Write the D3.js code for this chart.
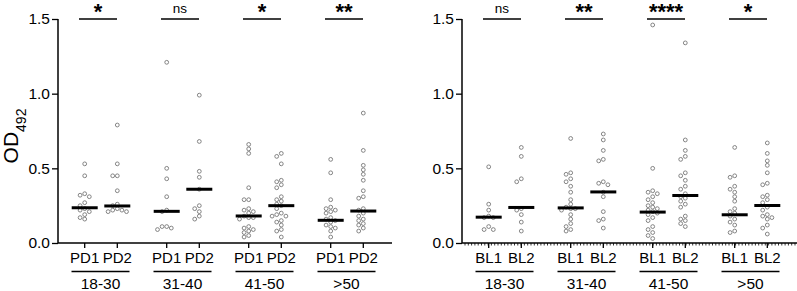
<!DOCTYPE html>
<html>
<head>
<meta charset="utf-8">
<script src="https://cdn.jsdelivr.net/npm/d3@7"></script>
<style>
  body { margin: 0; background: #fff; }
  text { font-family: "Liberation Sans", Arial, sans-serif; fill: #000; }
</style>
</head>
<body>
<div id="chart"></div>
<script>
// data
const ageGroups = ["18-30", "31-40", "41-50", ">50"];
const yTicks = [0, 0.5, 1.0, 1.5];

const leftSeries = ["PD1", "PD2"];
const leftPD1 = [
    [0.53, 0.45, 0.33, 0.32, 0.31, 0.27, 0.25, 0.23, 0.22, 0.21, 0.19, 0.17, 0.16],
    [1.21, 0.50, 0.43, 0.31, 0.22, 0.21, 0.11, 0.10, 0.11, 0.09],
    [0.66, 0.63, 0.60, 0.37, 0.29, 0.29, 0.23, 0.22, 0.21, 0.20, 0.18, 0.17, 0.17, 0.16, 0.11, 0.10, 0.09, 0.08, 0.07, 0.05, 0.04],
    [0.56, 0.47, 0.29, 0.24, 0.23, 0.22, 0.21, 0.20, 0.17, 0.16, 0.15, 0.14, 0.12, 0.11, 0.10, 0.08, 0.04]
];
const leftPD2 = [
    [0.79, 0.53, 0.45, 0.45, 0.35, 0.26, 0.25, 0.23, 0.22, 0.22, 0.21, 0.21],
    [0.99, 0.68, 0.48, 0.44, 0.36, 0.25, 0.23, 0.21, 0.18, 0.16],
    [0.60, 0.58, 0.53, 0.42, 0.41, 0.39, 0.37, 0.31, 0.29, 0.28, 0.26, 0.25, 0.23, 0.20, 0.19, 0.18, 0.18, 0.15, 0.14, 0.12, 0.09, 0.08, 0.04],
    [0.87, 0.62, 0.52, 0.49, 0.46, 0.42, 0.35, 0.31, 0.30, 0.23, 0.22, 0.20, 0.18, 0.16, 0.15, 0.13, 0.12, 0.10, 0.08]
];
const leftMedians = [[0.236, 0.248], [0.212, 0.36], [0.181, 0.25], [0.152, 0.214]];
const leftSig = ["*", "ns", "*", "**"];

const rightSeries = ["BL1", "BL2"];
const rightBL1 = [
    [0.51, 0.26, 0.22, 0.18, 0.17, 0.17, 0.11, 0.09, 0.09],
    [0.70, 0.47, 0.46, 0.43, 0.41, 0.38, 0.34, 0.29, 0.26, 0.24, 0.23, 0.23, 0.22, 0.19, 0.16, 0.13, 0.11, 0.09, 0.08],
    [1.46, 0.50, 0.35, 0.34, 0.33, 0.31, 0.29, 0.27, 0.25, 0.24, 0.23, 0.22, 0.21, 0.20, 0.19, 0.17, 0.15, 0.11, 0.09, 0.07, 0.05, 0.03],
    [0.64, 0.45, 0.44, 0.38, 0.36, 0.34, 0.31, 0.28, 0.23, 0.21, 0.20, 0.18, 0.16, 0.14, 0.12, 0.08, 0.07]
];
const rightBL2 = [
    [0.64, 0.58, 0.43, 0.41, 0.23, 0.22, 0.19, 0.14, 0.08],
    [0.73, 0.69, 0.62, 0.56, 0.55, 0.41, 0.40, 0.39, 0.34, 0.31, 0.21, 0.16, 0.15, 0.10],
    [1.34, 0.69, 0.62, 0.58, 0.56, 0.47, 0.45, 0.42, 0.38, 0.36, 0.33, 0.31, 0.30, 0.28, 0.26, 0.24, 0.18, 0.16, 0.15, 0.13, 0.11],
    [0.67, 0.60, 0.55, 0.52, 0.47, 0.40, 0.39, 0.32, 0.31, 0.29, 0.27, 0.24, 0.22, 0.19, 0.18, 0.17, 0.16, 0.12, 0.10, 0.06]
];
const rightMedians = [[0.173, 0.238], [0.235, 0.342], [0.207, 0.318], [0.189, 0.251]];
const rightSig = ["ns", "**", "****", "*"];

const width = 797;
const height = 291;

const svg = d3.select("#chart")
    .append("svg")
    .attr("width", width)
    .attr("height", height);

function drawPanel(opt) {
    const g = svg.append("g");
    const y = d3.scaleLinear().domain([0, 1.5]).range([243, 19]);
    const x = d3.scaleBand().domain(ageGroups).range([opt.x0 + 2, opt.x0 + 330]);
    const sub = d3.scalePoint().domain(opt.series).range([-16.3, 16.3]);

    // x axis baseline
    g.append("line")
        .attr("x1", opt.x0).attr("x2", opt.xEnd)
        .attr("y1", y(0)).attr("y2", y(0))
        .attr("stroke", "#000").attr("stroke-width", 1.5);

    if (opt.minor) {
        g.selectAll(".minor")
            .data(d3.range(opt.x0 + 3, opt.xEnd, 3.3))
            .enter().append("line")
            .attr("x1", d => d).attr("x2", d => d)
            .attr("y1", y(0)).attr("y2", y(0) + 2.5)
            .attr("stroke", "#000").attr("stroke-width", 0.8);
    }

    // y axis
    const yAxis = g.append("g")
        .attr("transform", `translate(${opt.x0},0)`)
        .call(d3.axisLeft(y).tickValues(yTicks).tickFormat(d3.format(".1f")).tickSize(6).tickPadding(2));
    yAxis.select(".domain").attr("stroke-width", 1.5).attr("d", `M-0,${y(1.5)}V${y(0)}`);
    yAxis.selectAll(".tick line").attr("stroke-width", 1.3);
    yAxis.selectAll("text").style("font-size", "15.5px").attr("font-family", "Liberation Sans, Arial, sans-serif");

    ageGroups.forEach((grp, i) => {
        const cx = x(grp) + x.bandwidth() / 2;

        opt.series.forEach((s, j) => {
            const sx = cx + sub(s);
            const vals = opt.values[j][i];

            // simple beeswarm placement
            const placed = [];
            const sorted = vals.slice().sort((a, b) => b - a);
            sorted.forEach(v => {
                const py = y(v);
                const cands = [0];
                for (let k = 1; k < 8; k++) cands.push(-k * 2.3, k * 2.3);
                let dx = 0;
                for (const c of cands) {
                    const ok = placed.every(p => Math.hypot(p.dx - c, p.py - py) >= 4.4);
                    if (ok) { dx = c; break; }
                }
                placed.push({ dx, py });
            });

            g.selectAll(null)
                .data(placed)
                .enter().append("circle")
                .attr("cx", d => sx + d.dx)
                .attr("cy", d => d.py)
                .attr("r", 1.9)
                .attr("fill", "#fff")
                .attr("stroke", "#777")
                .attr("stroke-width", 0.9);

            // median
            g.append("line")
                .attr("x1", sx - 13).attr("x2", sx + 13)
                .attr("y1", y(opt.medians[i][j])).attr("y2", y(opt.medians[i][j]))
                .attr("stroke", "#000").attr("stroke-width", 3);

            // category tick and label
            g.append("line")
                .attr("x1", sx).attr("x2", sx)
                .attr("y1", y(0)).attr("y2", y(0) + 5)
                .attr("stroke", "#000").attr("stroke-width", 1.3);
            g.append("text")
                .attr("x", sx).attr("y", 263)
                .attr("text-anchor", "middle")
                .style("font-size", "15px")
                .text(s);
        });

        // group bracket + label
        g.append("line")
            .attr("x1", cx - 29.5).attr("x2", cx + 28.5)
            .attr("y1", 271.5).attr("y2", 271.5)
            .attr("stroke", "#000").attr("stroke-width", 1.3);
        g.append("text")
            .attr("x", cx - 0.5).attr("y", 289)
            .attr("text-anchor", "middle")
            .style("font-size", "15.5px")
            .text(grp);

        // significance line and mark
        g.append("line")
            .attr("x1", cx - 22).attr("x2", cx + 16)
            .attr("y1", y(1.5)).attr("y2", y(1.5))
            .attr("stroke", "#000").attr("stroke-width", 1.3);
        const sig = opt.sig[i];
        g.append("text")
            .attr("x", cx - 3).attr("y", sig === "ns" ? 13 : 19)
            .attr("text-anchor", "middle")
            .style("font-size", sig === "ns" ? "13.5px" : "22px")
            .style("font-weight", sig === "ns" ? "normal" : "bold")
            .text(sig);
    });
}

drawPanel({ x0: 58, xEnd: 392, series: leftSeries, values: [leftPD1, leftPD2], medians: leftMedians, sig: leftSig, minor: false });
drawPanel({ x0: 462, xEnd: 797, series: rightSeries, values: [rightBL1, rightBL2], medians: rightMedians, sig: rightSig, minor: true });

// y label
svg.append("text")
    .attr("transform", "translate(18,136) rotate(-90)")
    .attr("text-anchor", "middle")
    .style("font-size", "21px")
    .html('OD<tspan baseline-shift="sub" font-size="14px">492</tspan>');
</script>
</body>
</html>
